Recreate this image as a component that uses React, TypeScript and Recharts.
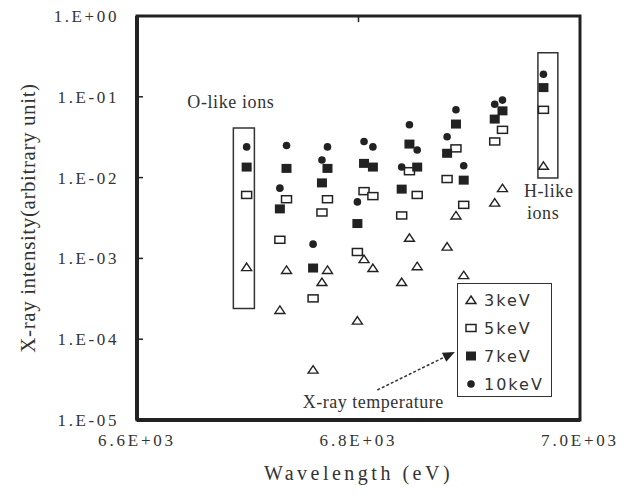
import React from "react";
import {
  ScatterChart,
  Scatter,
  XAxis,
  YAxis,
  Legend,
  ReferenceArea,
  ReferenceLine,
  ReferenceDot,
  Label,
} from "recharts";

// line energies (eV) shared by every series
const energies = [
  6699, 6729, 6735, 6759, 6767, 6772, 6799, 6805, 6813, 6839, 6846, 6853, 6880,
  6888, 6895, 6923, 6930, 6967,
];

const kev3 = [
  7.8e-4, 2.3e-4, 7.2e-4, 4.2e-5, 5.1e-4, 7.2e-4, 1.7e-4, 9.8e-4, 7.6e-4, 5.1e-4,
  1.8e-3, 8.0e-4, 1.4e-3, 3.4e-3, 6.2e-4, 4.9e-3, 7.4e-3, 1.4e-2,
];
const kev5 = [
  6.1e-3, 1.7e-3, 5.4e-3, 3.2e-4, 3.7e-3, 5.4e-3, 1.2e-3, 6.8e-3, 5.9e-3, 3.4e-3,
  1.2e-2, 6.1e-3, 9.6e-3, 2.3e-2, 4.6e-3, 2.8e-2, 3.9e-2, 6.9e-2,
];
const kev7 = [
  1.35e-2, 4.1e-3, 1.3e-2, 7.6e-4, 8.6e-3, 1.3e-2, 2.7e-3, 1.5e-2, 1.35e-2, 7.2e-3,
  2.6e-2, 1.35e-2, 2.0e-2, 4.6e-2, 9.3e-3, 5.3e-2, 6.7e-2, 1.3e-1,
];
const kev10 = [
  2.4e-2, 7.4e-3, 2.5e-2, 1.5e-3, 1.65e-2, 2.4e-2, 5.0e-3, 2.8e-2, 2.4e-2, 1.35e-2,
  4.5e-2, 2.2e-2, 3.2e-2, 6.9e-2, 1.4e-2, 8.1e-2, 9.1e-2, 1.9e-1,
];

const xTicks = [6600, 6800, 7000];
const yTicks = [1e-5, 1e-4, 1e-3, 1e-2, 1e-1, 1];

const toPoints = (vals: number[]) => vals.map((v, i) => ({ x: energies[i], y: v }));

const INK = "#222";
const serif = { fontFamily: "Liberation Serif" };

const Tri = ({ cx, cy }: any) => (
  <path
    d={`M${cx},${cy - 4} L${cx + 5},${cy + 3.5} L${cx - 5},${cy + 3.5} Z`}
    fill="#fff"
    stroke={INK}
    strokeWidth={1.4}
  />
);
const OpenSq = ({ cx, cy }: any) => (
  <rect x={cx - 5} y={cy - 3.5} width={10} height={7} fill="#fff" stroke={INK} strokeWidth={1.5} />
);
const FillSq = ({ cx, cy }: any) => (
  <rect x={cx - 5} y={cy - 4.5} width={10} height={9} fill={INK} />
);
const Dot = ({ cx, cy }: any) => <circle cx={cx} cy={cy} r={3.8} fill={INK} />;

const legendItems = [
  { name: "3keV", Shape: Tri },
  { name: "5keV", Shape: OpenSq },
  { name: "7keV", Shape: FillSq },
  { name: "10keV", Shape: Dot },
];

const fmtY = (v: number) => {
  const e = Math.round(Math.log10(v));
  return `1.E${e < 0 ? "-" : "+"}${String(Math.abs(e)).padStart(2, "0")}`;
};
const fmtX = (v: number) => `${(v / 1000).toFixed(1)}E+03`;

const YTick = ({ x, y, payload }: any) => (
  <g>
    <line x1={x} x2={x + 6} y1={y} y2={y} stroke={INK} strokeWidth={1.5} />
    <text
      x={x - 18}
      y={y + 6}
      textAnchor="end"
      style={serif}
      fontSize={17}
      letterSpacing={2.6}
      fill="#333"
    >
      {fmtY(payload.value)}
    </text>
  </g>
);

const XTick = ({ x, y, payload }: any) => (
  <text
    x={x}
    y={y + 26}
    textAnchor="middle"
    style={serif}
    fontSize={17}
    letterSpacing={2.8}
    fill="#333"
  >
    {fmtX(payload.value)}
  </text>
);

const Arrow = (p: any) => {
  const { x1, y1, x2, y2 } = p;
  const ang = Math.atan2(y2 - y1, x2 - x1);
  const len = 12;
  const half = 5;
  const bx = x2 - len * Math.cos(ang);
  const by = y2 - len * Math.sin(ang);
  const px = -Math.sin(ang) * half;
  const py = Math.cos(ang) * half;
  return (
    <g>
      <line x1={x1} y1={y1} x2={bx} y2={by} stroke="#333" strokeWidth={1.5} strokeDasharray="3 2" />
      <polygon points={`${x2},${y2} ${bx + px},${by + py} ${bx - px},${by - py}`} fill={INK} />
    </g>
  );
};

const LegendBox = () => (
  <div
    style={{
      width: 95,
      height: 114,
      boxSizing: "border-box",
      border: "1.5px solid #333",
      background: "#fff",
      paddingTop: 2,
      fontFamily: "DejaVu Sans",
      fontSize: 16,
      letterSpacing: 2,
      color: "#333",
    }}
  >
    {legendItems.map(({ name, Shape }) => (
      <div key={name} style={{ height: 28, display: "flex", alignItems: "center" }}>
        <svg width={26} height={14} style={{ flex: "none" }}>
          <Shape cx={13} cy={7} />
        </svg>
        <span>{name}</span>
      </div>
    ))}
  </div>
);

export default function App() {
  return (
    <div style={{ position: "absolute", left: 0, top: 0, background: "#fff" }}>
      <ScatterChart width={631} height={501} margin={{ top: 16, right: 51, bottom: 0, left: 0 }}>
        <XAxis
          type="number"
          dataKey="x"
          domain={[6600, 7000]}
          ticks={xTicks}
          interval={0}
          tick={<XTick />}
          tickLine={false}
          tickSize={0}
          tickMargin={0}
          height={81}
          axisLine={{ stroke: INK, strokeWidth: 4 }}
          allowDataOverflow
        >
          <Label
            content={({ viewBox }: any) => (
              <text
                x={viewBox.x + viewBox.width / 2}
                y={viewBox.y + 60}
                textAnchor="middle"
                style={serif}
                fontSize={20}
                letterSpacing={3.5}
                fill="#333"
              >
                Wavelength (eV)
              </text>
            )}
          />
        </XAxis>
        <YAxis
          type="number"
          dataKey="y"
          scale="log"
          domain={[1e-5, 1]}
          ticks={yTicks}
          interval={0}
          tick={<YTick />}
          tickLine={false}
          tickSize={0}
          tickMargin={0}
          width={137}
          axisLine={{ stroke: INK, strokeWidth: 4 }}
          allowDataOverflow
        >
          <Label
            content={({ viewBox }: any) => {
              const cy = viewBox.y + viewBox.height / 2;
              return (
                <text
                  x={28}
                  y={cy}
                  transform={`rotate(-90, 28, ${cy})`}
                  textAnchor="middle"
                  dominantBaseline="central"
                  style={serif}
                  fontSize={21}
                  letterSpacing={0.6}
                  fill="#333"
                >
                  X-ray intensity(arbitrary unit)
                </text>
              );
            }}
          />
        </YAxis>

        {/* plot frame */}
        <ReferenceArea x1={6600} x2={7000} y1={1e-5} y2={1} fill="none" stroke={INK} strokeWidth={3} />
        <ReferenceLine
          segment={[
            { x: 6800, y: 1 },
            { x: 6800, y: 0.84 },
          ]}
          stroke={INK}
          strokeWidth={1.5}
        />

        {/* O-like box */}
        <ReferenceArea
          x1={6687}
          x2={6706}
          y1={2.4e-4}
          y2={0.041}
          fill="none"
          stroke="#333"
          strokeWidth={1.5}
        >
          <Label
            content={({ viewBox }: any) => (
              <text
                x={viewBox.x + viewBox.width / 2 - 13}
                y={viewBox.y - 20}
                textAnchor="middle"
                style={serif}
                fontSize={18}
                letterSpacing={0.6}
                fill="#333"
              >
                O-like ions
              </text>
            )}
          />
        </ReferenceArea>

        {/* H-like box */}
        <ReferenceArea
          x1={6962}
          x2={6980}
          y1={9.9e-3}
          y2={0.35}
          fill="none"
          stroke="#333"
          strokeWidth={1.5}
        >
          <Label
            content={({ viewBox }: any) => (
              <text style={serif} fontSize={18} letterSpacing={0.6} fill="#333">
                <tspan x={viewBox.x - 14} y={viewBox.y + viewBox.height + 19}>
                  H-like
                </tspan>
                <tspan x={viewBox.x - 11} y={viewBox.y + viewBox.height + 41}>
                  ions
                </tspan>
              </text>
            )}
          />
        </ReferenceArea>

        <Scatter name="3keV" data={toPoints(kev3)} shape={(p: any) => <Tri {...p} />} isAnimationActive={false} />
        <Scatter name="5keV" data={toPoints(kev5)} shape={(p: any) => <OpenSq {...p} />} isAnimationActive={false} />
        <Scatter name="7keV" data={toPoints(kev7)} shape={(p: any) => <FillSq {...p} />} isAnimationActive={false} />
        <Scatter name="10keV" data={toPoints(kev10)} shape={(p: any) => <Dot {...p} />} isAnimationActive={false} />

        {/* X-ray temperature arrow */}
        <ReferenceLine
          segment={[
            { x: 6817, y: 2.35e-5 },
            { x: 6887, y: 6.95e-5 },
          ]}
          shape={Arrow}
        />
        <ReferenceDot x={6817} y={2.35e-5} r={0} fill="none" stroke="none">
          <Label
            content={({ viewBox }: any) => (
              <text
                x={viewBox.x - 4}
                y={viewBox.y + 18}
                textAnchor="middle"
                style={serif}
                fontSize={18}
                letterSpacing={0.5}
                fill="#333"
              >
                X-ray temperature
              </text>
            )}
          />
        </ReferenceDot>

        <Legend
          layout="vertical"
          align="center"
          verticalAlign="middle"
          content={() => <LegendBox />}
          wrapperStyle={{ left: 457, top: 283, width: 95, height: 114 }}
        />
      </ScatterChart>
    </div>
  );
}
